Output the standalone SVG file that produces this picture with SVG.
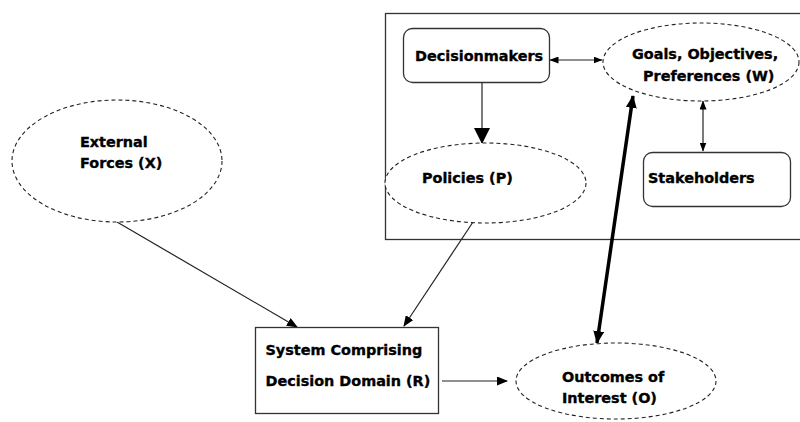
<svg xmlns="http://www.w3.org/2000/svg" width="800" height="422" viewBox="0 0 800 422">
<style>
text{font-family:"DejaVu Sans","Liberation Sans",sans-serif;font-weight:bold;font-size:14.4px;fill:#000;stroke:#000;stroke-width:0.35}
.dash{fill:#fff;stroke:#222;stroke-width:1.1;stroke-dasharray:4 3}
.box{fill:#fff;stroke:#333;stroke-width:1.3}
.ln{stroke:#222;stroke-width:1.2;fill:none}
</style>
<defs>
<marker id="ah" markerUnits="userSpaceOnUse" markerWidth="11" markerHeight="9" refX="10" refY="4.5" orient="auto-start-reverse"><path d="M0,0 L11,4.5 L0,9 z" fill="#000"/></marker>
<marker id="ahs" markerUnits="userSpaceOnUse" markerWidth="9" markerHeight="7" refX="8.5" refY="3.5" orient="auto-start-reverse"><path d="M0,0 L9,3.5 L0,7 z" fill="#000"/></marker>
<marker id="ahb" markerUnits="userSpaceOnUse" markerWidth="16" markerHeight="16" refX="15" refY="8" orient="auto"><path d="M0,0 L16,8 L0,16 z" fill="#000"/></marker>
<marker id="aht" markerUnits="userSpaceOnUse" markerWidth="13" markerHeight="11" refX="12" refY="5.5" orient="auto-start-reverse"><path d="M0,0 L13,5.5 L0,11 z" fill="#000"/></marker>
</defs>
<rect id="frame" x="385.5" y="13.5" width="420" height="226" fill="none" stroke="#333" stroke-width="1.3"/>
<g id="connectors">
<line class="ln" x1="550" y1="60" x2="602" y2="60" marker-start="url(#ahs)" marker-end="url(#ahs)"/>
<line class="ln" x1="703" y1="101" x2="703" y2="151" marker-start="url(#ahs)" marker-end="url(#ahs)"/>
<line class="ln" x1="482" y1="82" x2="482" y2="143" marker-end="url(#ahb)"/>
<line class="ln" x1="117" y1="222" x2="297" y2="327" marker-end="url(#ah)"/>
<line class="ln" x1="473" y1="222" x2="404" y2="326" marker-end="url(#ah)"/>
<line class="ln" x1="442" y1="381" x2="507" y2="381" marker-end="url(#ah)"/>
<line x1="633" y1="96" x2="597" y2="343" stroke="#000" stroke-width="3.5" marker-start="url(#aht)" marker-end="url(#aht)"/>
</g>
<g id="decisionmakers">
<rect class="box" x="403.5" y="28.5" width="146" height="54" rx="9"/>
<text x="415" y="61">Decisionmakers</text>
</g>
<g id="goals">
<ellipse class="dash" cx="701" cy="62" rx="98" ry="39"/>
<text x="632" y="59">Goals, Objectives,</text>
<text x="643" y="81">Preferences (W)</text>
</g>
<g id="policies">
<ellipse class="dash" cx="485.5" cy="183" rx="100.5" ry="40"/>
<text x="422" y="183">Policies (P)</text>
</g>
<g id="stakeholders">
<rect class="box" x="643.5" y="152.5" width="147" height="54" rx="9"/>
<text x="648" y="183">Stakeholders</text>
</g>
<g id="external">
<ellipse class="dash" cx="117" cy="161" rx="105" ry="61"/>
<text x="80" y="147">External</text>
<text x="80" y="168">Forces (X)</text>
</g>
<g id="system">
<rect class="box" x="255.5" y="327.5" width="183" height="86"/>
<text x="265.5" y="355">System Comprising</text>
<text x="265.5" y="386">Decision Domain (R)</text>
</g>
<g id="outcomes">
<ellipse class="dash" cx="616" cy="381" rx="100" ry="38"/>
<text x="562" y="382">Outcomes of</text>
<text x="562" y="403">Interest (O)</text>
</g>
</svg>
